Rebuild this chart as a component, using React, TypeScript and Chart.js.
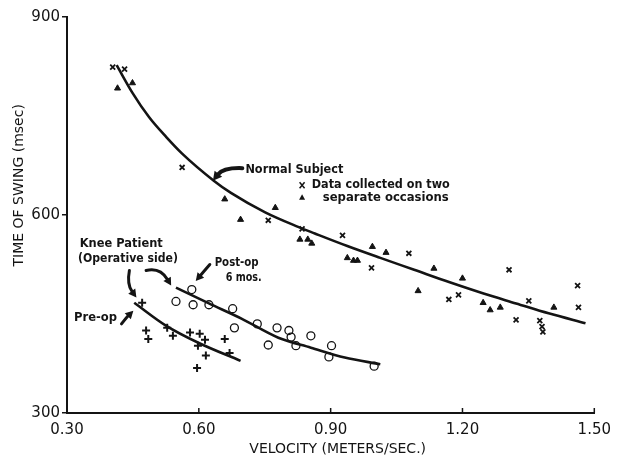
import React, { useEffect, useRef } from "react";
import { Chart, registerables } from "chart.js";

Chart.register(...registerables);

// Axis ticks
const xTickValues = [0.3, 0.6, 0.9, 1.2, 1.5];
const yTickValues = [300, 600, 900];

// Normal subject, occasion 1 ("x" markers): velocity (m/s), swing time (msec)
const normalXV = [0.404, 0.431, 0.562, 0.758, 0.835, 0.927, 0.993, 1.078, 1.169, 1.191, 1.306, 1.351, 1.322, 1.376, 1.381, 1.383, 1.462, 1.464];
const normalXT = [824, 821, 672, 592, 579, 569, 520, 542, 472, 479, 517, 470, 441, 440, 431, 423, 493, 460];

// Normal subject, occasion 2 (triangles)
const normalTriV = [0.415, 0.449, 0.659, 0.695, 0.774, 0.83, 0.848, 0.857, 0.995, 1.026, 0.938, 0.952, 0.961, 1.135, 1.099, 1.2, 1.247, 1.263, 1.286, 1.408];
const normalTriT = [792, 800, 624, 593, 611, 563, 563, 557, 552, 543, 535, 531, 531, 519, 485, 504, 467, 456, 460, 460];

// Normal subject fitted curve
const normalCurveV = [0.413, 0.449, 0.487, 0.526, 0.562, 0.634, 0.674, 0.751, 0.826, 0.864, 0.938, 1.013, 1.09, 1.171, 1.248, 1.322, 1.396, 1.48];
const normalCurveT = [827, 785, 748, 718, 693, 652, 633, 604, 582, 572, 553, 535, 517, 498, 481, 466, 451, 436];

// Knee patient, post-op 6 mos (circles)
const postOpV = [0.584, 0.548, 0.587, 0.623, 0.677, 0.681, 0.733, 0.758, 0.778, 0.805, 0.81, 0.821, 0.855, 0.902, 0.896, 0.999];
const postOpT = [487, 469, 464, 464, 458, 429, 435, 403, 429, 425, 415, 402, 417, 402, 385, 371];
const postOpCurveV = [0.548, 0.623, 0.697, 0.781, 0.855, 0.932, 1.013];
const postOpCurveT = [490, 466, 443, 414, 399, 384, 374];

// Knee patient, pre-op (plus markers)
const preOpV = [0.471, 0.48, 0.485, 0.528, 0.541, 0.58, 0.602, 0.614, 0.598, 0.616, 0.596, 0.659, 0.67];
const preOpT = [467, 425, 412, 429, 417, 422, 420, 411, 402, 387, 368, 412, 391];
const preOpCurveV = [0.453, 0.526, 0.6, 0.695];
const preOpCurveT = [467, 432, 406, 379];

const INK = "#141414";
const FONT = "'DejaVu Sans', 'Liberation Sans', sans-serif";

const pts = (xs: number[], ys: number[]) => xs.map((x, i) => ({ x, y: ys[i] }));

function drawArrow(
  ctx: CanvasRenderingContext2D,
  x0: number, y0: number, cx: number, cy: number, x1: number, y1: number,
  width: number, head: number
) {
  ctx.save();
  ctx.strokeStyle = INK;
  ctx.fillStyle = INK;
  ctx.lineWidth = width;
  ctx.lineCap = "round";
  const ang = Math.atan2(y1 - cy, x1 - cx);
  const bx = x1 - Math.cos(ang) * head * 0.8;
  const by = y1 - Math.sin(ang) * head * 0.8;
  ctx.beginPath();
  ctx.moveTo(x0, y0);
  ctx.quadraticCurveTo(cx, cy, bx, by);
  ctx.stroke();
  ctx.beginPath();
  ctx.moveTo(x1, y1);
  ctx.lineTo(x1 - Math.cos(ang - 0.5) * head, y1 - Math.sin(ang - 0.5) * head);
  ctx.lineTo(x1 - Math.cos(ang + 0.5) * head, y1 - Math.sin(ang + 0.5) * head);
  ctx.closePath();
  ctx.fill();
  ctx.restore();
}

const annotationPlugin = {
  id: "figureAnnotations",
  afterDraw(chart: any) {
    const ctx: CanvasRenderingContext2D = chart.ctx;
    const xs = chart.scales.x;
    const ys = chart.scales.y;
    const area = chart.chartArea;
    const P = (v: number, t: number) => [xs.getPixelForValue(v), ys.getPixelForValue(t)];

    ctx.save();
    // inward (upward) x tick marks
    ctx.strokeStyle = INK;
    ctx.lineWidth = 1.5;
    xTickValues.slice(1).forEach((v) => {
      const px = xs.getPixelForValue(v);
      ctx.beginPath();
      ctx.moveTo(px, area.bottom);
      ctx.lineTo(px, area.bottom - 5);
      ctx.stroke();
    });

    ctx.fillStyle = INK;
    ctx.textBaseline = "middle";

    // axis titles
    ctx.font = `14px ${FONT}`;
    ctx.textAlign = "center";
    ctx.fillText("VELOCITY (METERS/SEC.)", xs.getPixelForValue(0.916), area.bottom + 36, 202);
    ctx.save();
    ctx.translate(area.left - 48, ys.getPixelForValue(645));
    ctx.rotate(-Math.PI / 2);
    ctx.fillText("TIME OF SWING (msec)", 0, 0, 204);
    ctx.restore();

    // annotation texts
    ctx.textAlign = "left";
    const text = (s: string, v: number, t: number, w: number, size: number) => {
      ctx.font = `bold ${size}px ${FONT}`;
      const [px, py] = P(v, t);
      ctx.fillText(s, px, py, w);
    };
    text("Normal Subject", 0.706, 669, 98, 12);
    text("Data collected on two", 0.857, 645, 138, 12);
    text("separate occasions", 0.882, 626, 126, 12);
    text("Knee Patient", 0.329, 557, 83, 12);
    text("(Operative side)", 0.325, 534, 100, 12);
    text("Post-op", 0.636, 528, 44, 12);
    text("6 mos.", 0.661, 504, 36, 12);
    text("Pre-op", 0.316, 444, 43, 12);

    // legend markers
    const [lx, ly] = P(0.835, 645);
    ctx.lineWidth = 1.5;
    ctx.beginPath();
    ctx.moveTo(lx - 2.5, ly - 3);
    ctx.lineTo(lx + 2.5, ly + 3);
    ctx.moveTo(lx + 2.5, ly - 3);
    ctx.lineTo(lx - 2.5, ly + 3);
    ctx.stroke();
    const [tx, ty] = P(0.835, 627);
    ctx.beginPath();
    ctx.moveTo(tx, ty - 3);
    ctx.lineTo(tx + 3, ty + 2.5);
    ctx.lineTo(tx - 3, ty + 2.5);
    ctx.closePath();
    ctx.fill();

    // arrows
    const arrow = (a: number[], c: number[], b: number[], w: number, h: number) => {
      const [x0, y0] = P(a[0], a[1]);
      const [cx, cy] = P(c[0], c[1]);
      const [x1, y1] = P(b[0], b[1]);
      drawArrow(ctx, x0, y0, cx, cy, x1, y1, w, h);
    };
    arrow([0.699, 671], [0.656, 672], [0.632, 652], 4, 10);
    arrow([0.442, 516], [0.436, 495], [0.458, 475], 3, 9);
    arrow([0.48, 516], [0.512, 521], [0.537, 493], 3, 9);
    arrow([0.625, 525], [0.612, 515], [0.593, 500], 3, 9);
    arrow([0.424, 435], [0.436, 445], [0.451, 455], 3, 9);
    ctx.restore();
  },
};

export default function App() {
  const canvasRef = useRef<HTMLCanvasElement | null>(null);

  useEffect(() => {
    document.body.style.margin = "0";
    const canvas = canvasRef.current;
    if (!canvas) return;
    const curve = (xs: number[], ys: number[]) => ({
      type: "line" as const,
      data: pts(xs, ys),
      showLine: true,
      borderColor: INK,
      borderWidth: 2.6,
      pointRadius: 0,
      tension: 0.4,
      cubicInterpolationMode: "monotone" as const,
      fill: false,
    });
    const chart = new Chart(canvas, {
      type: "scatter",
      data: {
        datasets: [
          curve(normalCurveV, normalCurveT),
          curve(postOpCurveV, postOpCurveT),
          curve(preOpCurveV, preOpCurveT),
          {
            data: pts(normalXV, normalXT),
            pointStyle: "crossRot",
            pointRadius: 3.5,
            borderColor: INK,
            borderWidth: 1.8,
          },
          {
            data: pts(normalTriV, normalTriT),
            pointStyle: "triangle",
            pointRadius: 3.5,
            borderColor: INK,
            backgroundColor: INK,
            borderWidth: 1,
          },
          {
            data: pts(postOpV, postOpT),
            pointStyle: "circle",
            pointRadius: 4,
            borderColor: INK,
            backgroundColor: "rgba(255,255,255,0)",
            borderWidth: 1.3,
          },
          {
            data: pts(preOpV, preOpT),
            pointStyle: "cross",
            pointRadius: 4,
            borderColor: INK,
            borderWidth: 2,
          },
        ] as any,
      },
      options: {
        responsive: false,
        animation: false,
        devicePixelRatio: 1,
        layout: { padding: { top: 17, right: 20, left: 0, bottom: 0 } },
        plugins: {
          legend: { display: false },
          tooltip: { enabled: false },
          title: { display: false },
        },
        scales: {
          x: {
            type: "linear",
            min: 0.3,
            max: 1.5,
            afterBuildTicks: (s: any) => {
              s.ticks = xTickValues.map((v) => ({ value: v }));
            },
            afterFit: (s: any) => {
              s.height = 48;
            },
            grid: { display: false, drawTicks: false },
            border: { display: true, color: INK, width: 2 },
            ticks: {
              color: INK,
              padding: 8,
              maxRotation: 0,
              font: { family: FONT, size: 15 },
              callback: (v: any) => Number(v).toFixed(2),
            },
          },
          y: {
            type: "linear",
            min: 300,
            max: 900,
            afterBuildTicks: (s: any) => {
              s.ticks = yTickValues.map((v) => ({ value: v }));
            },
            afterFit: (s: any) => {
              s.width = 67;
            },
            grid: {
              display: true,
              drawOnChartArea: false,
              drawTicks: true,
              tickLength: 5,
              color: INK,
              lineWidth: 1.5,
            },
            border: { display: true, color: INK, width: 2 },
            ticks: {
              color: INK,
              padding: 2,
              font: { family: FONT, size: 15 },
              callback: (v: any) => String(v),
            },
          },
        },
      },
      plugins: [annotationPlugin],
    });
    return () => chart.destroy();
  }, []);

  return (
    <div style={{ position: "fixed", left: 0, top: 0, width: 619, height: 461, background: "#fff" }}>
      <canvas ref={canvasRef} width={619} height={461} style={{ display: "block" }} />
    </div>
  );
}
